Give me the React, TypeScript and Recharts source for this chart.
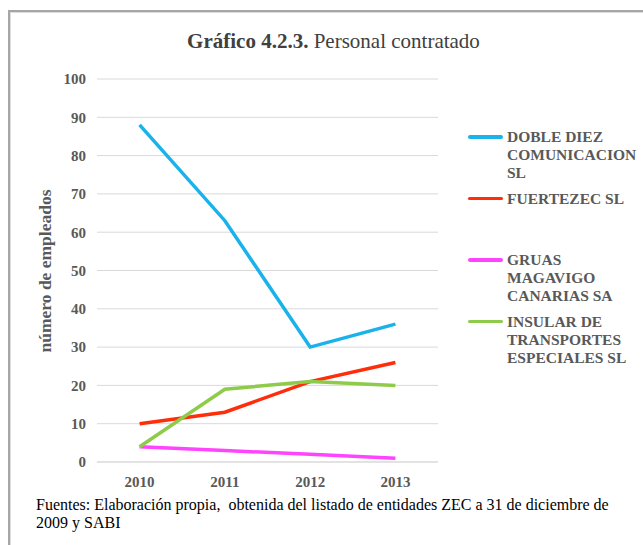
import React from "react";
import { LineChart, Line, XAxis, YAxis, CartesianGrid } from "recharts";

const years = ["2010", "2011", "2012", "2013"];
const dobleDiez = [88, 63, 30, 36];
const fuertezec = [10, 13, 21, 26];
const gruas = [4, 3, 2, 1];
const insular = [4, 19, 21, 20];
const yTicks = [0, 10, 20, 30, 40, 50, 60, 70, 80, 90, 100];

const series = [
  { key: "doble", name: "DOBLE DIEZ COMUNICACION SL", values: dobleDiez, color: "#19B2EA" },
  { key: "fuertezec", name: "FUERTEZEC SL", values: fuertezec, color: "#FF2D0A" },
  { key: "gruas", name: "GRUAS MAGAVIGO CANARIAS SA", values: gruas, color: "#FF44FF" },
  { key: "insular", name: "INSULAR DE TRANSPORTES ESPECIALES SL", values: insular, color: "#8FCB4A" },
];

const data = years.map((y, i) => {
  const row: Record<string, string | number> = { year: y };
  series.forEach((s) => {
    row[s.key] = s.values[i];
  });
  return row;
});

const FONT = "'Liberation Serif', 'Times New Roman', serif";
const GRAY = "#595959";

export default function App() {
  return (
    <div
      style={{
        position: "absolute",
        left: 0,
        top: 0,
        width: 643,
        height: 545,
        background: "#fff",
        overflow: "hidden",
        fontFamily: FONT,
      }}
    >
      <div
        style={{
          position: "absolute",
          left: 8,
          top: 10,
          width: 700,
          height: 600,
          borderLeft: "2px solid #a6a6a6",
          borderTop: "2px solid #a6a6a6",
          boxShadow: "inset 1px 1px 0 #dcdcdc",
        }}
      />
      <div
        style={{
          position: "absolute",
          left: 0,
          width: 643,
          top: 28,
          textAlign: "center",
          fontSize: 21,
          lineHeight: "26px",
          color: "#404040",
          paddingLeft: 24,
          boxSizing: "border-box",
        }}
      >
        <b>Gráfico 4.2.3.</b> Personal contratado
      </div>
      <div
        style={{
          position: "absolute",
          left: 45,
          top: 271,
          transform: "translate(-50%, -50%) rotate(-90deg)",
          whiteSpace: "nowrap",
          fontSize: 17.5,
          fontWeight: "bold",
          color: GRAY,
        }}
      >
        número de empleados
      </div>
      <div style={{ position: "absolute", left: 0, top: 0 }}>
        <LineChart
          width={643}
          height={545}
          data={data}
          margin={{ top: 79, right: 205, bottom: 53, left: 57 }}
        >
          <CartesianGrid vertical={false} stroke="#d9d9d9" strokeWidth={1} />
          <XAxis
            dataKey="year"
            axisLine={{ stroke: "#d9d9d9" }}
            tickLine={false}
            tickSize={0}
            tickMargin={14}
            height={30}
            padding={{ left: 42.6, right: 42.6 }}
            tick={{ fill: GRAY, fontSize: 15, fontWeight: "bold", fontFamily: FONT }}
          />
          <YAxis
            domain={[0, 100]}
            ticks={yTicks}
            axisLine={false}
            tickLine={false}
            tickSize={0}
            tickMargin={11}
            width={40}
            interval={0}
            tick={{ fill: GRAY, fontSize: 15, fontWeight: "bold", fontFamily: FONT }}
          />
          {series.map((s) => (
            <Line
              key={s.key}
              dataKey={s.key}
              name={s.name}
              stroke={s.color}
              strokeWidth={3.5}
              dot={false}
              activeDot={false}
              type="linear"
              isAnimationActive={false}
            />
          ))}
        </LineChart>
      </div>
      <div style={{ position: "absolute", left: 468, top: 128, width: 175 }}>
        {series.map((s) => (
          <div key={s.key} style={{ height: 61.5, display: "flex", alignItems: "flex-start" }}>
            <div style={{ width: 35, height: 18, display: "flex", alignItems: "center", flexShrink: 0 }}>
              <div style={{ width: 35, height: 3.5, background: s.color, borderRadius: 2 }} />
            </div>
            <div
              style={{
                marginLeft: 4,
                width: 136,
                fontSize: 15.5,
                lineHeight: "18px",
                fontWeight: "bold",
                color: GRAY,
              }}
            >
              {s.name}
            </div>
          </div>
        ))}
      </div>
      <div
        style={{
          position: "absolute",
          left: 36,
          top: 496,
          width: 578,
          fontSize: 16,
          lineHeight: "18px",
          color: "#000",
        }}
      >
        Fuentes: Elaboración propia,&nbsp; obtenida del listado de entidades ZEC a 31 de diciembre de 2009 y SABI
      </div>
    </div>
  );
}
